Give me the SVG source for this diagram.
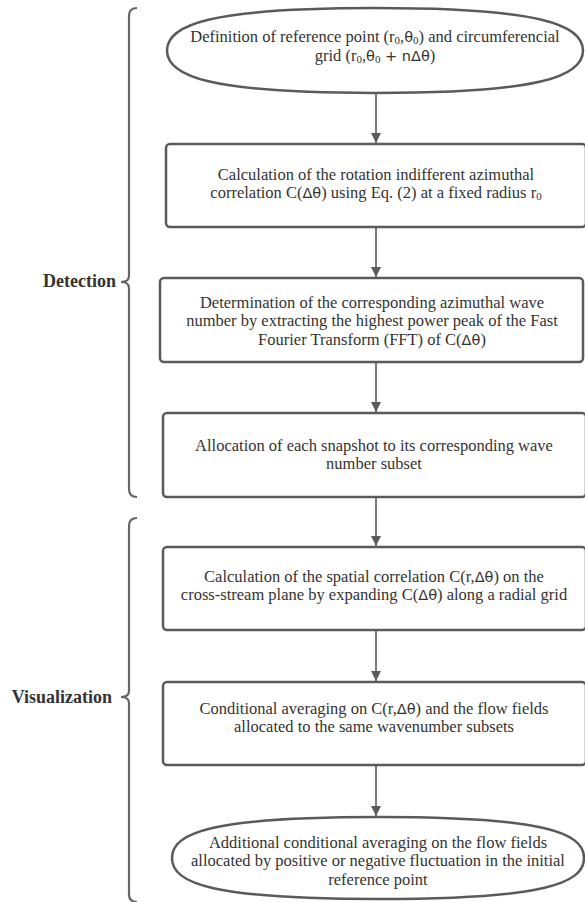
<svg xmlns="http://www.w3.org/2000/svg" width="585" height="902" viewBox="0 0 585 902">
<style>
.shape{fill:#fff;stroke:#5a5a5a;stroke-width:2.5}
.conn{stroke:#5a5a5a;stroke-width:1.6;fill:none}
.brace{stroke:#666;stroke-width:2.2;fill:none}
.t{font-family:"Liberation Serif","Times New Roman",serif;font-size:16.5px;fill:#333;text-anchor:middle}
.lbl{font-family:"Liberation Serif","Times New Roman",serif;font-size:18px;font-weight:bold;fill:#333;text-anchor:end}
.g{font-family:"DejaVu Sans","Liberation Sans",sans-serif;font-size:14.5px}
.s{font-size:11px}
</style>
<defs>
<marker id="ah" markerWidth="10" markerHeight="12" refX="10" refY="5" orient="auto" markerUnits="userSpaceOnUse">
<path d="M0,0 L10,5 L0,10 Z" fill="#5a5a5a"/>
</marker>
</defs>
<g id="braces">
<path class="brace" d="M137,8 Q129,8 129,16 L129,276 Q129,282 121,282 Q129,282 129,288 L129,489 Q129,497 137,497"/>
<path class="brace" d="M137,518 Q129,518 129,526 L129,691 Q129,697 121,697 Q129,697 129,703 L129,894 Q129,902 137,902"/>
</g>
<g id="labels">
<text class="lbl" x="116" y="287">Detection</text>
<text class="lbl" x="112" y="703">Visualization</text>
</g>
<g id="connectors">
<line class="conn" x1="376" y1="93" x2="376" y2="143" marker-end="url(#ah)"/>
<line class="conn" x1="376" y1="227" x2="376" y2="277" marker-end="url(#ah)"/>
<line class="conn" x1="376" y1="362" x2="376" y2="412" marker-end="url(#ah)"/>
<line class="conn" x1="376" y1="497" x2="376" y2="546" marker-end="url(#ah)"/>
<line class="conn" x1="376" y1="630" x2="376" y2="681" marker-end="url(#ah)"/>
<line class="conn" x1="376" y1="765" x2="376" y2="816" marker-end="url(#ah)"/>
</g>
<g id="n1">
<path class="shape" d="M167,50.5 C167,25 208,8 375,8 C542,8 583,25 583,50.5 C583,76 542,93 375,93 C208,93 167,76 167,50.5 Z"/>
<text class="t" x="375" y="42">Definition of reference point (r<tspan class="s" dy="2">0</tspan><tspan dy="-2">,</tspan><tspan class="g">θ</tspan><tspan class="s" dy="2">0</tspan><tspan dy="-2">) and circumferencial</tspan></text>
<text class="t" x="375" y="60.5">grid (r<tspan class="s" dy="2">0</tspan><tspan dy="-2">,</tspan><tspan class="g">θ</tspan><tspan class="s" dy="2">0</tspan><tspan class="g" dy="-2"> + nΔθ</tspan>)</text>
</g>
<g id="n2">
<rect class="shape" x="166" y="144" width="420" height="83" rx="4"/>
<text class="t" x="376" y="179.5">Calculation of the rotation indifferent azimuthal</text>
<text class="t" x="376" y="198">correlation C(<tspan class="g">Δθ</tspan>) using Eq. (2) at a fixed radius r<tspan class="s" dy="2">0</tspan></text>
</g>
<g id="n3">
<rect class="shape" x="160" y="278" width="423" height="84" rx="4"/>
<text class="t" x="372" y="307.5">Determination of the corresponding azimuthal wave</text>
<text class="t" x="372" y="326">number by extracting the highest power peak of the Fast</text>
<text class="t" x="372" y="344.5">Fourier Transform (FFT) of C(<tspan class="g">Δθ</tspan>)</text>
</g>
<g id="n4">
<rect class="shape" x="163" y="413" width="423" height="84" rx="4"/>
<text class="t" x="374" y="450.5">Allocation of each snapshot to its corresponding wave</text>
<text class="t" x="374" y="469">number subset</text>
</g>
<g id="n5">
<rect class="shape" x="163" y="547" width="423" height="83" rx="4"/>
<text class="t" x="374" y="581.5">Calculation of the spatial correlation C(r,<tspan class="g">Δθ</tspan>) on the</text>
<text class="t" x="374" y="600">cross-stream plane by expanding C(<tspan class="g">Δθ</tspan>) along a radial grid</text>
</g>
<g id="n6">
<rect class="shape" x="163" y="682" width="423" height="83" rx="4"/>
<text class="t" x="374" y="713.5">Conditional averaging on C(r,<tspan class="g">Δθ</tspan>) and the flow fields</text>
<text class="t" x="374" y="732">allocated to the same wavenumber subsets</text>
</g>
<g id="n7">
<path class="shape" d="M172,858 C172,832 214,817 378,817 C542,817 584,832 584,858 C584,884 542,899 378,899 C214,899 172,884 172,858 Z"/>
<text class="t" x="378" y="847.5">Additional conditional averaging on the flow fields</text>
<text class="t" x="378" y="866">allocated by positive or negative fluctuation in the initial</text>
<text class="t" x="378" y="884.5">reference point</text>
</g>
</svg>
